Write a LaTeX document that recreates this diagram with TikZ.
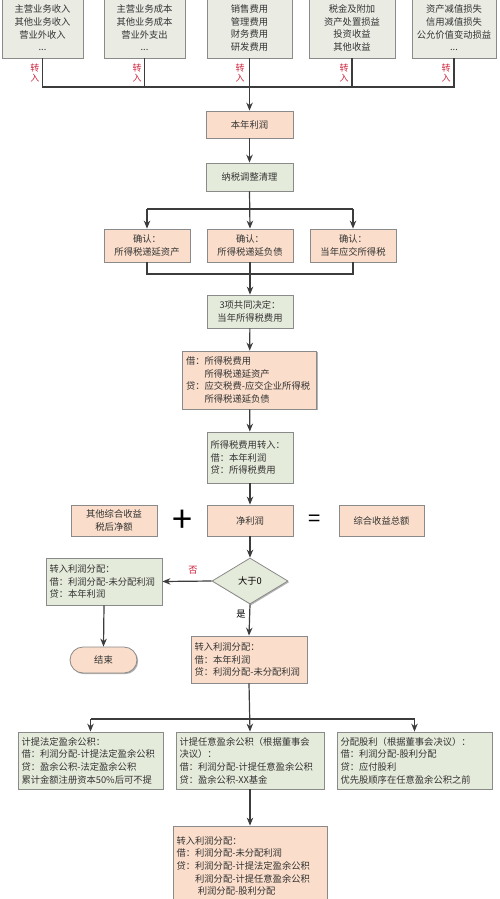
\documentclass[tikz,border=0pt]{standalone}
\usepackage{fontspec}
\setmainfont{Noto Sans CJK SC}
\usetikzlibrary{arrows.meta,shapes.geometric,shadows}

\definecolor{peach}{RGB}{250,221,202}
\definecolor{sage}{RGB}{229,235,219}
\definecolor{stone}{RGB}{234,236,228}
\definecolor{frame}{RGB}{138,138,138}
\definecolor{ink}{RGB}{60,60,60}
\definecolor{alert}{RGB}{205,35,60}

\tikzset{
  card/.style={rectangle, draw=frame, line width=0.8pt, inner xsep=3.5pt, inner ysep=2pt,
    text=black!80, font=\fontsize{9.3}{12.7}\selectfont,
    drop shadow={shadow xshift=1.2pt, shadow yshift=-1.2pt, opacity=0.3, fill=black}},
  topcard/.style={card, fill=stone, align=center, minimum height=60},
  peachcard/.style={card, fill=peach, align=center},
  sagecard/.style={card, fill=sage, align=center},
  leftcard/.style={card, align=left, text width=#1},
  movetag/.style={text=alert, align=center, inner sep=0pt, font=\fontsize{9}{10}\selectfont},
  link/.style={draw=ink, line width=1.2pt},
  flow/.style={link, -{Stealth[length=8pt,width=6.5pt]}},
}

\begin{document}
\begin{tikzpicture}[x=1pt,y=-1pt]
\useasboundingbox (0,0) rectangle (500,899);

% profit and loss items
\node [topcard, minimum width=81] (sales)  at (42.5,28)  {主营业务收入\\其他业务收入\\营业外收入\\...};
\node [topcard, minimum width=81] (costs)  at (144.5,28) {主营业务成本\\其他业务成本\\营业外支出\\...};
\node [topcard, minimum width=85] (fees)   at (249.5,28) {销售费用\\管理费用\\财务费用\\研发费用};
\node [topcard, minimum width=86] (taxes)  at (352,28)   {税金及附加\\资产处置损益\\投资收益\\其他收益};
\node [topcard, minimum width=84] (impair) at (454,28)   {资产减值损失\\信用减值损失\\公允价值变动损益\\...};

\foreach \x/\n in {35/1, 137/2, 240/3, 344/4, 446/5}{
    \node [movetag] (in\n) at (\x,73) {转\\入};
}

\node [peachcard, minimum width=87, minimum height=27] (profit) at (249.5,124.5) {本年利润};
\coordinate (collect) at (250,87);
\draw [link] (sales.south) |- (collect) -| (impair.south);
\draw [link] (costs.south) -- (costs.south |- collect);
\draw [link] (taxes.south) -- (taxes.south |- collect);
\draw [flow] (fees.south) -- (profit.north);

% income tax
\node [sagecard, minimum width=87, minimum height=28] (adjust) at (249.5,177) {纳税调整清理};
\node [peachcard, minimum width=86, minimum height=33] (dta) at (147,245.5) {确认：\\所得税递延资产};
\node [peachcard, minimum width=86, minimum height=33] (dtl) at (250,245.5) {确认：\\所得税递延负债};
\node [peachcard, minimum width=86, minimum height=33] (cur) at (353,245.5) {确认：\\当年应交所得税};
\node [sagecard, minimum width=86, minimum height=33] (taxexp) at (250,311.5) {3项共同决定：\\当年所得税费用};
\node [leftcard=127, fill=peach, minimum height=58] (entry) at (249.5,380)
    {借：所得税费用\\\hspace*{2em}所得税递延资产\\贷：应交税费-应交企业所得税\\\hspace*{2em}所得税递延负债};
\node [leftcard=79, fill=sage, minimum height=51] (close) at (250,457.5)
    {所得税费用转入：\\借：本年利润\\贷：所得税费用};

\draw [flow] (profit) -- (adjust);
\coordinate (split) at (250,209);
\draw [link] (dta.north |- split) -- (cur.north |- split);
\draw [flow] (adjust.south) -- (dtl.north);
\foreach \n in {dta, cur}{
    \draw [flow] (\n.north |- split) -- (\n.north);
}
\coordinate (merge) at (250,274);
\draw [link] (dta.south) |- (merge) -| (cur.south);
\draw [flow] (dtl.south) -- (taxexp.north);
\draw [flow] (taxexp) -- (entry);
\draw [flow] (entry) -- (close);

% comprehensive income
\node [peachcard, minimum width=86, minimum height=31] (oci) at (114,520.5) {其他综合收益\\税后净额};
\node [peachcard, minimum width=86, minimum height=31] (net) at (250,520.5) {净利润};
\node [peachcard, minimum width=85, minimum height=31] (total) at (381.5,520.5) {综合收益总额};
\node [inner sep=0pt, font=\fontsize{36}{36}\selectfont] (plus) at (182,521) {+};
\node [inner sep=0pt, font=\fontsize{22}{22}\selectfont] (equals) at (315,521) {=};
\draw [flow] (close) -- (net);

% distribution
\node [diamond, draw=frame, line width=0.8pt, fill=sage, aspect=1.65, minimum width=76, minimum height=46,
    inner sep=0pt, font=\fontsize{9.3}{12.7}\selectfont,
    drop shadow={shadow xshift=1.2pt, shadow yshift=-1.2pt, opacity=0.3, fill=black}] (positive) at (250,581) {大于0};
\node [leftcard=109, fill=sage, minimum height=47] (loss) at (104,581.5)
    {转入利润分配：\\借：利润分配-未分配利润\\贷：本年利润};
\node [card, fill=peach, rounded corners=13pt, minimum width=67, minimum height=26] (finish) at (103.5,660) {结束};
\node [leftcard=109, fill=peach, minimum height=47] (gain) at (249,659.5)
    {转入利润分配：\\借：本年利润\\贷：利润分配-未分配利润};
\node [text=alert, font=\fontsize{9.3}{11}\selectfont] (no) at (193,570) {否};
\node [font=\fontsize{9.3}{11}\selectfont] (yes) at (241,614) {是};

\draw [flow] (net) -- (positive);
\draw [flow] (positive.west) -- (loss.east);
\draw [flow] (loss.south) -- (finish.north);
\draw [flow] (positive.south) -- (gain.north);

\node [leftcard=138, fill=sage, minimum height=57] (legal) at (90.5,760.5)
    {计提法定盈余公积：\\借：利润分配-计提法定盈余公积\\贷：盈余公积-法定盈余公积\\累计金额注册资本50\%后可不提};
\node [leftcard=141, fill=sage, minimum height=57] (optional) at (250,760.5)
    {计提任意盈余公积（根据董事会\\决议）：\\借：利润分配-计提任意盈余公积\\贷：盈余公积-XX基金};
\node [leftcard=148, fill=sage, minimum height=57] (dividend) at (414.5,760.5)
    {分配股利（根据董事会决议）：\\借：利润分配-股利分配\\贷：应付股利\\优先股顺序在任意盈余公积之前};
\node [leftcard=147, fill=peach, minimum height=80] (final) at (250,866)
    {转入利润分配：\\借：利润分配-未分配利润\\贷：利润分配-计提法定盈余公积\\\hspace*{2em}利润分配-计提任意盈余公积\\\hspace*{2.3em}利润分配-股利分配};

\coordinate (fan) at (250,719);
\draw [link] (legal.north |- fan) -- (dividend.north |- fan);
\draw [flow] (gain.south) -- (optional.north);
\foreach \n in {legal, dividend}{
    \draw [flow] (\n.north |- fan) -- (\n.north);
}
\draw [flow] (optional) -- (final);

\end{tikzpicture}
\end{document}
